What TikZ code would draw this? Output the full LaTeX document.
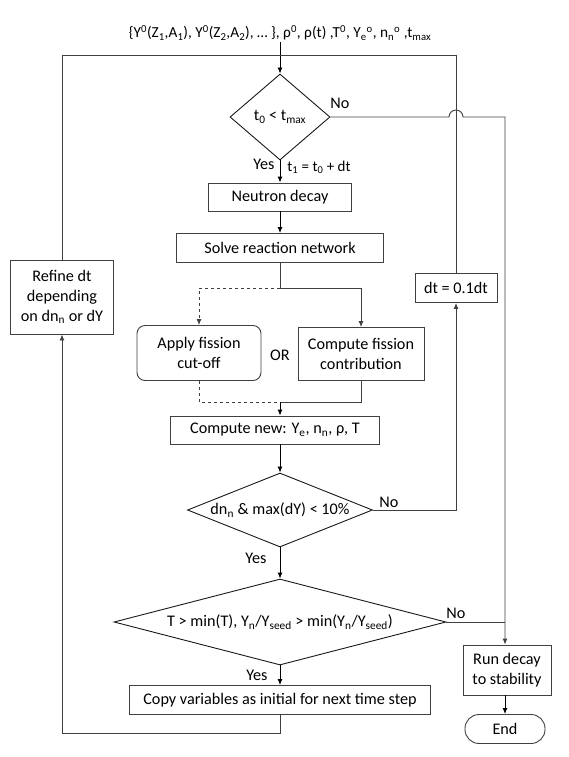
\documentclass[tikz,border=0pt]{standalone}
\usepackage{fontspec}
\setmainfont{Carlito}
\usetikzlibrary{shapes.geometric,arrows.meta}

\newcommand{\sub}[1]{\textsubscript{#1}}
\newcommand{\sups}[1]{\textsuperscript{#1}}

\tikzset{
    box/.style={draw=black!75,line width=0.9pt,fill=white,inner sep=0pt,align=center,font=\fontsize{16.2}{20}\selectfont},
    roundbox/.style={box,rounded corners=8pt},
    cond/.style={diamond,draw=black!90,line width=0.9pt,inner sep=0pt,font=\fontsize{16.2}{20}\selectfont},
    wire/.style={draw=black!75,line width=0.9pt},
    lbl/.style={inner sep=1pt,font=\fontsize{16.2}{20}\selectfont}
}

\begin{document}
\begin{tikzpicture}[x=1pt,y=-1pt,>={Latex[length=6pt,width=5pt]},line width=0.9pt]
    \useasboundingbox (0,0) rectangle (569,757);

    % Startwerte
    \node[lbl,font=\fontsize{15.3}{18}\selectfont] (init) at (280,33) {\{Y\sups{0}(Z\sub{1},A\sub{1}), Y\sups{0}(Z\sub{2},A\sub{2}), \dots\ \}, ρ\sups{0}, ρ(t) ,T\sups{0}, Y\sub{e}\sups{o}, n\sub{n}\sups{o} ,t\sub{max}};

    % Hauptspalte
    \node[cond,aspect=1.16,minimum width=100pt,minimum height=86pt] (cond1) at (280,117) {t\sub{0} < t\sub{max}};
    \node[box,minimum width=143pt,minimum height=28pt] (decay) at (280,197) {Neutron decay};
    \node[box,minimum width=207pt,minimum height=29pt] (network) at (280,248) {Solve reaction network};
    \node[roundbox,minimum width=124pt,minimum height=55pt] (cutoff) at (199,353) {Apply fission\\cut-off};
    \node[box,minimum width=126pt,minimum height=53pt] (fission) at (361,354) {Compute fission\\contribution};
    \node[lbl] (or) at (280,355) {OR};
    \node[box,minimum width=209pt,minimum height=28pt] (newvars) at (275,430) {Compute new: Y\sub{e}, n\sub{n}, ρ, T};
    \node[cond,aspect=2.4,minimum width=185pt,minimum height=74pt] (cond2) at (280,510) {dn\sub{n} \& max(dY) < 10\%};
    \node[cond,aspect=3.86,minimum width=332pt,minimum height=86pt] (cond3) at (280,622) {T > min(T), Y\sub{n}/Y\sub{seed} > min(Y\sub{n}/Y\sub{seed})};
    \node[box,minimum width=301pt,minimum height=29pt] (copy) at (280,700) {Copy variables as initial for next time step};

    % Seitenspalten
    \node[box,minimum width=103pt,minimum height=74pt] (refine) at (62,297) {Refine dt\\depending\\on dn\sub{n} or dY};
    \node[box,minimum width=82pt,minimum height=29pt] (reduce) at (456,288) {dt = 0.1dt};
    \node[box,minimum width=88pt,minimum height=50pt] (rundecay) at (507,670) {Run decay\\to stability};
    \node[box,rounded corners=14pt,minimum width=80pt,minimum height=29pt] (stop) at (505,729) {End};

    % Hilfspunkte
    \coordinate (join) at (280,55);
    \coordinate (split) at (280,288);
    \coordinate (merge) at (280,402);
    \coordinate (nojoin) at (505,622);

    % Verbindungen
    \draw[->] (init) -- (cond1);
    \draw[wire] (refine.north) |- (join);
    \draw[wire] (reduce.north) |- (join);
    \draw[wire,->] (cond1.east) -- (449,117) arc[start angle=180,end angle=360,radius=7] -- (505,117) -- (rundecay.north -| 505,0);
    \draw[->] (cond1.south) -- (decay.north);
    \draw[->] (decay) -- (network);
    \draw[wire] (network.south) -- (split);
    \draw[wire,dashed,->] (split) -| (cutoff.north);
    \draw[wire,->] (split) -| (fission.north);
    \draw[wire,dashed] (cutoff.south) |- (merge);
    \draw[wire] (fission.south) |- (merge);
    \draw[->] (merge) -- (newvars.north -| merge);
    \draw[->] (newvars.south -| cond2) -- (cond2.north);
    \draw[wire,->] (cond2.east) -| (reduce.south);
    \draw[->] (cond2.south) -- (cond3.north);
    \draw[wire] (cond3.east) -- (nojoin);
    \draw[->] (cond3.south) -- (copy.north);
    \draw[wire,->] (copy.south) -- ++(0,18) -| (refine.south);
    \draw[->] (rundecay.south -| stop) -- (stop.north);

    % Beschriftungen
    \node[lbl,anchor=east] (yes1) at (276,164) {Yes};
    \node[lbl,anchor=west,font=\fontsize{15}{18}\selectfont] (dtlbl) at (286,167) {t\sub{1} = t\sub{0} + dt};
    \node[lbl,anchor=west] (no1) at (329,103) {No};
    \node[lbl,anchor=west] (no2) at (378,502) {No};
    \node[lbl,anchor=east] (yes2) at (268,558) {Yes};
    \node[lbl,anchor=west] (no3) at (445,613) {No};
    \node[lbl,anchor=east] (yes3) at (269,675) {Yes};

\end{tikzpicture}
\end{document}
